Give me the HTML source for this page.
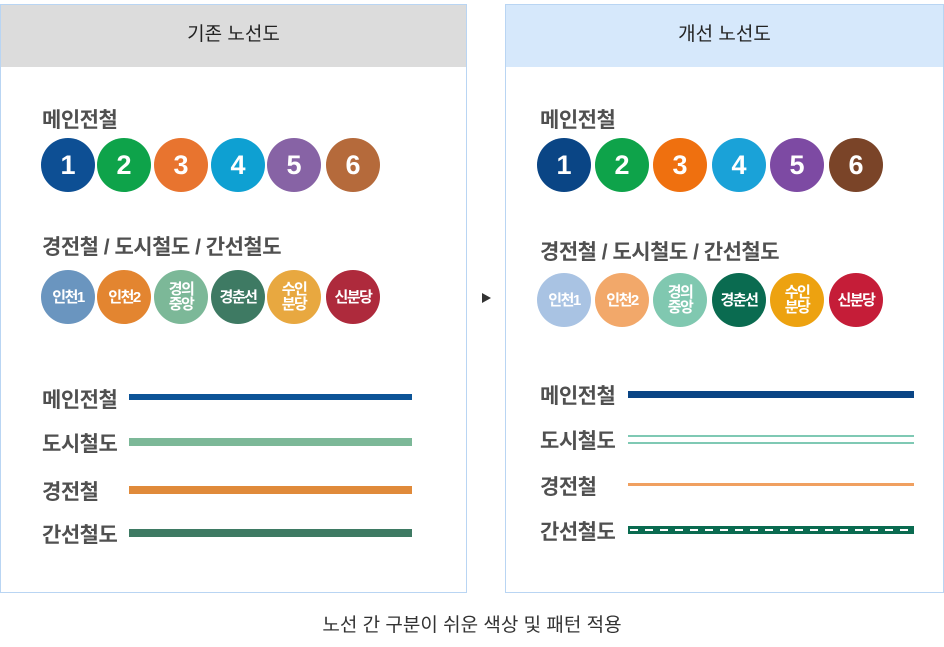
<!DOCTYPE html>
<html><head><meta charset="utf-8"><style>
body{margin:0;width:944px;height:647px;background:#fff;position:relative;overflow:hidden;font-family:"Liberation Sans","Noto Sans CJK KR",sans-serif;}
.a{position:absolute}
.panel{position:absolute;top:4px;height:589px;border:1px solid #b9d5f3;box-sizing:border-box}
.hd{position:absolute;left:0;right:0;top:0;height:62px;line-height:60px;text-align:center;font-size:19px;color:#222}
.t{position:absolute;font-size:21px;font-weight:bold;color:#505050;white-space:nowrap;letter-spacing:-0.5px}
.c{position:absolute;width:54px;height:54px;border-radius:50%;color:#fff;font-weight:bold;display:flex;align-items:center;justify-content:center;text-align:center;line-height:15px;font-size:15px;letter-spacing:-1.5px}
.n{font-size:27px;letter-spacing:0}
</style></head><body>
<div class="panel" style="left:0;width:467px">
<div class="hd" style="background:#dcdcdc">기존 노선도</div></div>
<div class="panel" style="left:505px;width:439px">
<div class="hd" style="background:#d6e8fb">개선 노선도</div></div>
<div class="a" style="left:482px;top:293px;width:0;height:0;border-left:9px solid #333;border-top:5px solid transparent;border-bottom:5px solid transparent"></div>
<div id="root"></div>
<div class="a" style="left:0;width:944px;top:610px;text-align:center;font-size:19px;color:#333">노선 간 구분이 쉬운 색상 및 패턴 적용</div>
<script>
const lines1=["1","2","3","4","5","6"];
const lines2=["인천1","인천2","경의<br>중앙","경춘선","수인<br>분당","신분당"];
const oldC1=["#0d4f94","#0ea34a","#e8742f","#0ea0d2","#8763a5","#b56a3b"];
const newC1=["#0a4585","#0ea34a","#ef700f","#1aa2d8","#7d4aa3","#7a4428"];
const oldC2=["#6a95bf","#e38530","#7cb898","#3e7a63","#e8a840","#ae2a3c"];
const newC2=["#a9c3e3","#f2a86a","#80c8b0","#0a6b50","#eda210","#c51d38"];
const root=document.getElementById('root');
function add(html,name){const d=document.createElement('div');d.innerHTML=html;const e=d.firstChild;root.appendChild(e);return e;}
[[42,'메인전철',104],[42,'경전철 / 도시철도 / 간선철도',231],[540,'메인전철',104],[540,'경전철 / 도시철도 / 간선철도',236]].forEach((v,i)=>add(`<div class="t" style="left:${v[0]}px;top:${v[2]}px">${v[1]}</div>`,'section-title'));
const ox1=[68,124,181,238,294,353],nx1=[564,622,680,739,797,856];
lines1.forEach((l,i)=>{add(`<div class="c n" style="left:${ox1[i]-27}px;top:138px;background:${oldC1[i]}">${l}</div>`,'line-badge-old-'+l);
add(`<div class="c n" style="left:${nx1[i]-27}px;top:138px;background:${newC1[i]}">${l}</div>`,'line-badge-new-'+l);});
lines2.forEach((l,i)=>{add(`<div class="c" style="left:${ox1[i]-27}px;top:270px;background:${oldC2[i]}">${l}</div>`,'line-badge-old');
add(`<div class="c" style="left:${nx1[i]-27}px;top:273px;background:${newC2[i]}">${l}</div>`,'line-badge-new');});
const labels=['메인전철','도시철도','경전철','간선철도'];
const oy=[398,442,490,533],ny=[394,439,485,530];
const oCol=['#0d5497','#7cb898','#e08a3a','#3e7a63'];
labels.forEach((l,i)=>{add(`<div class="t" style="left:42px;top:${oy[i]-14}px">${l}</div>`,'legend-label-old');
add(`<div class="a" style="left:129px;top:${oy[i]-4}px;width:283px;height:${i==0?6:8}px;background:${oCol[i]}"></div>`,'legend-line-old');
add(`<div class="t" style="left:540px;top:${ny[i]-14}px">${l}</div>`,'legend-label-new');});
add(`<div class="a" style="left:628px;top:391px;width:286px;height:7px;background:#0a4585"></div>`,'legend-line-new-main');
add(`<div class="a" style="left:628px;top:435px;width:286px;height:2px;background:#7fc9b4;box-shadow:0 7px 0 #7fc9b4"></div>`,'legend-line-new-city');
add(`<div class="a" style="left:628px;top:483px;width:286px;height:3px;background:#f0a060"></div>`,'legend-line-new-light');
add(`<div class="a" style="left:628px;top:526px;width:286px;height:8px;background:#0a6b50;display:flex;align-items:center"><div style="width:100%;height:2px;margin:0 2px;background:repeating-linear-gradient(90deg,#fff 0 8px,transparent 8px 15px)"></div></div>`,'legend-line-new-trunk');
</script>
</body></html>
